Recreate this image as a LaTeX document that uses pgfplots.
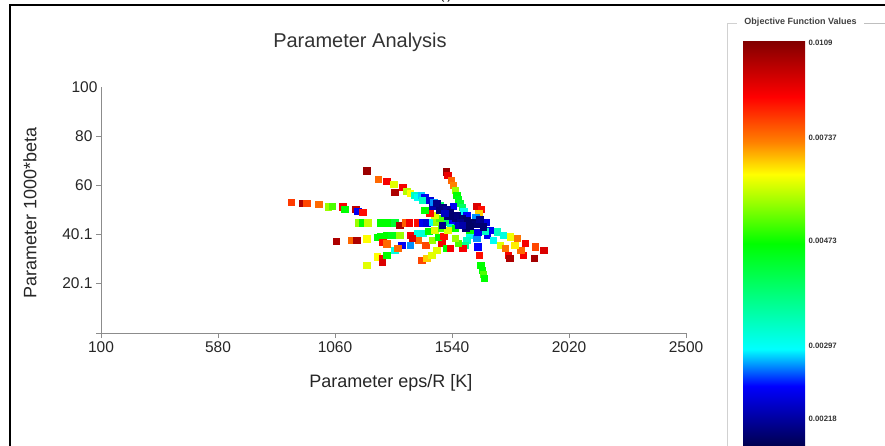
\documentclass[border=0pt]{standalone}
\usepackage{fontspec}
\setmainfont{Liberation Sans}
\usepackage{pgfplots}
\pgfplotsset{compat=1.18}
\usetikzlibrary{calc}

\pgfplotsset{
  colormap={objjet}{rgb(0pt)=(0,0,0.3); rgb(15pt)=(0,0,1); rgb(24pt)=(0,1,1); rgb(37pt)=(0,1,0.5); rgb(50pt)=(0,1,0); rgb(60pt)=(0.6,1,0); rgb(67pt)=(1,1,0); rgb(75pt)=(1,0.5,0); rgb(86pt)=(1,0,0); rgb(100pt)=(0.5,0,0)}
}

\begin{document}
\begin{tikzpicture}
\path[use as bounding box] (0pt,0pt) rectangle (885pt,445pt);
\begin{axis}[
  at={(101pt,112pt)}, anchor=south west,
  scale only axis, width=585pt, height=246pt,
  xmin=100, xmax=2500, ymin=0, ymax=100,
  axis lines=left,
  axis line style={-, draw=black!45, line width=0.8pt},
  xtick={100,580,1060,1540,2020,2500},
  xticklabels={100,580,1060,1540,2020,2500},
  ytick={20.1,40.1,60,80},
  yticklabels={20.1,40.1,60,80},
  extra y ticks={100}, extra y tick labels={100},
  extra y tick style={major tick length=0pt},
  tick align=outside, major tick length=5pt,
  tick style={draw=black!45, line width=0.8pt},
  ticklabel style={font=\fontsize{15.5}{18}\selectfont, text=black!85},
  colormap name=objjet, point meta min=0, point meta max=1,
  title={Parameter Analysis},
  title style={at={(axis description cs:0.4427,1.1585)}, anchor=center, font=\fontsize{20}{24}\selectfont, text=black!80},
  xlabel={Parameter eps/R [K]},
  xlabel style={at={(axis description cs:0.4957,-0.2033)}, anchor=center, font=\fontsize{18}{22}\selectfont, text=black!85},
  ylabel={Parameter 1000*beta},
  ylabel style={at={(axis description cs:-0.1214,0.4878)}, anchor=center, font=\fontsize{18}{22}\selectfont, text=black!85},
  colorbar,
  colorbar/width=62pt,
  colorbar style={
    at={($(parent axis.south east)+(48.5pt,-114pt)$)}, anchor=south west,
    scale only axis, width=62pt, height=407pt,
    ytick={0.069,0.248,0.506,0.759,0.993},
    yticklabels={0.00218,0.00297,0.00473,0.00737,0.0109},
    extra y ticks={},
    major tick length=0pt, tick style={draw=none},
    axis line style={draw=none},
    yticklabel style={font=\bfseries\fontsize{7.8}{9}\selectfont, text=black!80},
  },
]
\addplot[scatter, only marks, mark=square*, mark size=3.3pt, point meta=explicit,
  scatter/use mapped color={draw=mapped color, fill=mapped color}]
  table[meta=c] {
x y c
879.5 53.25 0.81
928.7 52.84 0.95
945.1 52.84 0.80
994.3 52.43 0.77
1031.3 51.42 0.60
1047.7 51.62 0.55
1092.8 51.42 0.87
1101.0 50.40 0.50
1146.1 50.40 0.93
1154.3 49.59 0.14
1174.8 49.18 0.85
1190.0 65.97 0.97
1236.4 62.60 0.77
1272.1 61.78 0.87
1302.0 60.56 0.65
1306.1 57.31 0.95
1338.9 59.34 0.87
1354.1 57.72 0.62
1367.7 56.91 0.67
1384.1 56.09 0.30
1396.4 55.28 0.25
1412.8 56.09 0.22
1429.2 55.28 0.14
1421.0 54.06 0.30
1490.7 52.03 0.40
1544.1 51.62 0.14
1515.4 65.65 0.97
1521.5 64.22 0.88
1535.9 62.19 0.77
1544.1 60.16 0.75
1552.3 58.12 0.60
1558.4 56.09 0.50
1564.6 54.47 0.48
1572.8 52.84 0.45
1581.0 51.22 0.40
1589.2 49.59 0.25
1601.5 47.96 0.15
1642.5 51.62 0.90
1659.0 50.40 0.85
1650.7 48.78 0.70
1638.4 47.15 0.20
1158.4 44.83 0.60
1174.8 44.83 0.50
1195.3 44.83 0.63
1244.6 44.83 0.50
1265.1 44.83 0.50
1289.7 44.83 0.50
1306.1 44.83 0.45
1326.6 43.90 0.95
1347.2 44.83 0.78
1363.6 44.83 0.87
1396.4 44.83 0.85
1416.9 44.83 0.14
1437.4 44.83 0.12
1458.0 45.12 0.25
1478.4 45.12 0.60
1511.2 45.12 0.40
1540.0 45.12 0.15
1064.1 37.39 0.95
1128.5 37.80 0.77
1150.2 37.80 0.95
1191.2 38.33 0.67
1232.3 38.90 0.50
1244.6 39.14 0.50
1273.3 39.83 0.50
1293.8 39.83 0.48
1326.6 39.71 0.60
1367.7 39.83 0.87
1396.4 40.52 0.27
1421.0 40.65 0.28
1445.6 41.46 0.50
1470.2 41.86 0.65
1498.9 42.68 0.55
1531.8 43.08 0.30
1256.9 36.99 0.85
1273.3 36.38 0.77
1306.1 33.74 0.27
1334.8 35.77 0.14
1367.7 35.77 0.20
1191.2 27.64 0.65
1232.3 31.09 0.67
1252.8 30.36 0.87
1273.3 31.70 0.50
1252.8 28.86 0.90
1318.4 34.55 0.77
1415.7 29.67 0.80
1436.2 30.48 0.70
1456.7 31.70 0.65
1477.2 33.74 0.65
1497.7 36.58 0.87
1518.3 34.55 0.50
1531.8 34.55 0.87
1433.3 35.77 0.80
1458.0 37.80 0.60
1482.6 39.02 0.50
1507.1 39.43 0.85
1400.5 37.80 0.77
1376.0 38.61 0.90
1613.8 39.83 0.26
1601.5 37.80 0.30
1593.3 35.77 0.35
1585.1 34.43 0.87
1564.6 36.58 0.55
1552.3 38.61 0.60
1646.6 35.08 0.15
1652.0 31.70 0.85
1658.9 27.64 0.50
1663.1 25.61 0.50
1667.2 23.98 0.55
1671.3 22.23 0.50
1642.5 38.61 0.20
1646.6 41.05 0.14
1695.9 41.86 0.14
1724.6 41.18 0.30
1749.2 39.83 0.27
1778.0 39.14 0.66
1806.7 38.49 0.76
1839.5 36.46 0.87
1880.5 35.08 0.80
1917.4 33.74 0.90
1876.4 30.36 0.96
1683.6 39.83 0.14
1708.2 37.80 0.25
1736.9 35.77 0.65
1757.5 34.55 0.76
1771.0 31.70 0.87
1777.9 30.36 0.95
1831.3 31.70 0.87
1823.0 33.74 0.77
1798.4 35.77 0.68
1552.3 42.68 0.50
1523.5 41.86 0.65
1490.7 46.74 0.55
1470.2 47.96 0.65
1449.7 48.78 0.85
1429.2 50.00 0.50
1613.8 41.86 0.50
1679.5 45.12 0.12
1675.4 41.46 0.30
};
\addplot[scatter, only marks, mark=square*, mark size=3.3pt, point meta=explicit,
  scatter/use mapped color={draw=mapped color, fill=mapped color}]
  table[meta=c] {
x y c
1462.0 51.62 0.08
1449.7 54.06 0.12
1466.1 53.25 0.20
1478.4 52.84 0.05
1490.7 49.99 0.04
1503.0 51.22 0.04
1519.4 50.40 0.06
1531.8 49.18 0.03
1552.3 46.74 0.03
1560.5 47.96 0.04
1581.0 46.74 0.03
1601.5 45.93 0.02
1593.3 44.71 0.02
1622.0 45.12 0.02
1638.4 44.30 0.03
1572.8 45.12 0.05
1564.6 43.90 0.10
1667.2 43.21 0.03
1597.4 42.68 0.03
1613.8 43.49 0.02
1581.0 43.90 0.08
1499.0 43.90 0.05
1523.5 47.55 0.03
1511.2 48.78 0.10
1654.7 46.34 0.05
};
\end{axis}
% x-axis line reaching slightly left of the y axis
\draw[black!45, line width=0.8pt] (96pt,112pt) -- (101pt,112pt);
% colour-bar group box and its title
\draw[black!18, line width=0.6pt] (727pt,-2pt) -- (727pt,422pt) -- (737pt,422pt);
\draw[black!25, line width=0.6pt] (864pt,422pt) -- (887pt,422pt);
\node[font=\bfseries\fontsize{9}{10}\selectfont, text=black!75, inner sep=0pt] at (800.5pt,423pt) {Objective Function Values};
% outer frame of the figure
\draw[black, line width=2.5pt] (10pt,-2pt) -- (10pt,440pt) -- (890pt,440pt);
\node[font=\fontsize{13}{15}\selectfont, anchor=base, inner sep=0pt] at (446pt,445.5pt) {(i)};
\end{tikzpicture}
\end{document}
